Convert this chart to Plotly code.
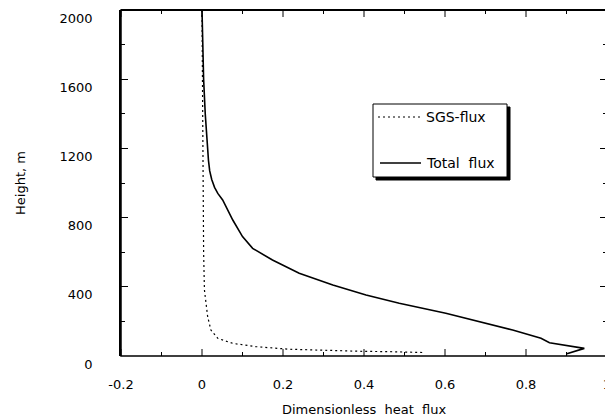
import plotly.graph_objects as go

# Total flux profile (dimensionless heat flux vs height)
total_flux = [0.0, 0.004, 0.008, 0.013, 0.016, 0.019, 0.024, 0.031, 0.039, 0.051, 0.076,
              0.10, 0.125, 0.174, 0.24, 0.323, 0.405, 0.487, 0.602, 0.767, 0.837, 0.858,
              0.944, 0.899]
total_height = [2000, 1600, 1400, 1200, 1130, 1070, 1020, 975, 940, 902, 786,
                690, 622, 555, 478, 410, 353, 305, 247, 150, 102, 77,
                44, 12]

# SGS flux profile
sgs_flux = [0.0, 0.002, 0.004, 0.006, 0.014, 0.022, 0.039, 0.076, 0.133, 0.216,
            0.314, 0.396, 0.462, 0.55]
sgs_height = [2000, 1000, 600, 382, 227, 150, 102, 73, 54, 39, 31, 27, 25, 20]

x_ticks = [-0.2, 0, 0.2, 0.4, 0.6, 0.8, 1]
x_labels = ["-0.2", "0", "0.2", "0.4", "0.6", "0.8", "1"]
x_minor = [-0.1, 0.1, 0.3, 0.5, 0.7, 0.9]
y_ticks = [0, 400, 800, 1200, 1600, 2000]

FONT = "DejaVu Sans"

fig = go.Figure()
fig.add_trace(go.Scatter(x=sgs_flux, y=sgs_height, mode="lines", name="SGS-flux",
                         line=dict(color="black", width=1.2, dash="2px,3px")))
fig.add_trace(go.Scatter(x=total_flux, y=total_height, mode="lines", name="Total flux",
                         line=dict(color="black", width=1.6)))

# page has an 8px body margin: plot area in page pixels
OFF = 8
L, R, T, B = 121, 607, 10, 356
W, H = 613 - OFF, 417 - OFF
def px(x):
    return (x - L) / (R - L)
def py(y):
    return (B - y) / (B - T)

shapes = [
    # plot frame
    dict(type="rect", xref="paper", yref="paper", x0=0, x1=1, y0=0, y1=1,
         line=dict(color="black", width=1.5), layer="above"),
    dict(type="line", xref="paper", yref="paper", x0=0, x1=1, y0=1, y1=1,
         line=dict(color="black", width=2), layer="above"),
]
# x ticks (inside, bottom and top)
for xs, ln in ((x_ticks, 7), (x_minor, 4)):
    for v in xs:
        for y0, y1 in ((0, ln / (B - T)), (1, 1 - ln / (B - T))):
            shapes.append(dict(type="line", xref="x", yref="paper", x0=v, x1=v, y0=y0, y1=y1,
                               line=dict(color="black", width=1), layer="above"))
shapes += [
    # legend box with shadow
    dict(type="rect", xref="paper", yref="paper", x0=px(376), x1=px(510), y0=py(180), y1=py(107),
         fillcolor="black", line=dict(color="black", width=1), layer="above"),
    dict(type="rect", xref="paper", yref="paper", x0=px(373), x1=px(507), y0=py(177), y1=py(104),
         fillcolor="white", line=dict(color="black", width=1), layer="above"),
    dict(type="line", xref="paper", yref="paper", x0=px(378), x1=px(421), y0=py(117), y1=py(117),
         line=dict(color="black", width=1.2, dash="2px,3px"), layer="above"),
    dict(type="line", xref="paper", yref="paper", x0=px(380), x1=px(421), y0=py(163), y1=py(163),
         line=dict(color="black", width=1.4), layer="above"),
]
annotations = [
    dict(xref="paper", yref="paper", x=px(424), y=py(117), text="SGS-flux", showarrow=False,
         xanchor="left", yanchor="middle", font=dict(family=FONT, size=14, color="black")),
    dict(xref="paper", yref="paper", x=px(424), y=py(163), text="Total  flux", showarrow=False,
         xanchor="left", yanchor="middle", font=dict(family=FONT, size=14, color="black")),
    # axis titles
    dict(xref="paper", yref="paper", x=px(364), y=py(409), text="Dimensionless  heat  flux",
         showarrow=False, xanchor="center", yanchor="middle",
         font=dict(family=FONT, size=13, color="black")),
    dict(xref="paper", yref="paper", x=px(20), y=py(183), text="Height, m", textangle=-90,
         showarrow=False, xanchor="center", yanchor="middle",
         font=dict(family=FONT, size=13, color="black")),
]

fig.update_layout(
    width=W, height=H,
    margin=dict(l=L - OFF, r=W - (R - OFF), t=T - OFF, b=H - (B - OFF)),
    paper_bgcolor="white", plot_bgcolor="white",
    showlegend=False,
    shapes=shapes, annotations=annotations,
    font=dict(family=FONT, size=13, color="black"),
    # labels only; transparent outside ticks push the labels down
    xaxis=dict(
        range=[-0.2, 1.0], tickmode="array", tickvals=x_ticks, ticktext=x_labels,
        ticks="outside", ticklen=16, tickcolor="rgba(0,0,0,0)",
        showgrid=False, zeroline=False, showline=False, automargin=False,
    ),
    yaxis=dict(
        range=[0, 2000], tickmode="array", tickvals=y_ticks,
        ticks="inside", ticklen=7, tickcolor="black", tickwidth=1,
        minor=dict(tickmode="linear", tick0=0, dtick=200, ticks="inside", ticklen=4, tickcolor="black"),
        showgrid=False, zeroline=False, showline=True, linecolor="black", linewidth=1.5,
        mirror="allticks", automargin=False, ticklabelstandoff=24, ticklabelshift=8,
    ),
)

fig.write_html("out.html")
